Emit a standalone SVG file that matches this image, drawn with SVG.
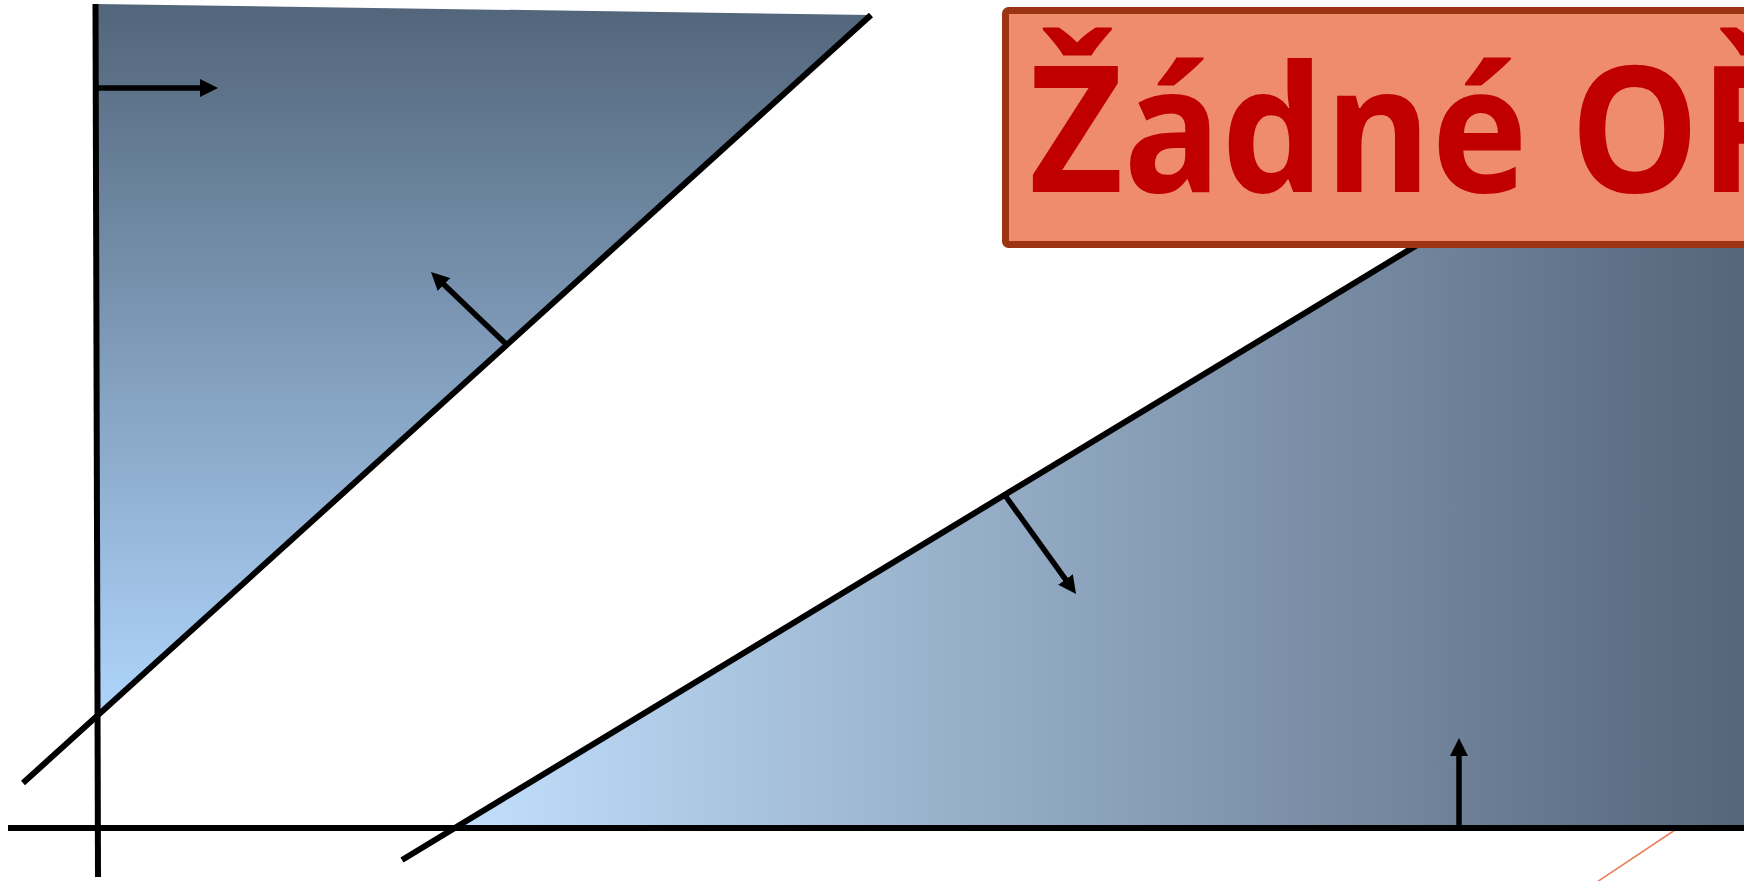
<svg xmlns="http://www.w3.org/2000/svg" width="1744" height="881" viewBox="0 0 1744 881">
  <style>
    .ln { stroke: #000; stroke-width: 6; fill: none; }
    .ar { stroke: #000; stroke-width: 5.5; fill: none; marker-end: url(#head); }
    .lbl { font-family: "Open Sans", "Noto Sans", "DejaVu Sans", sans-serif; font-weight: bold; font-size: 176px; fill: #c00000; }
  </style>
  <defs>
    <linearGradient id="gUp" gradientUnits="userSpaceOnUse" x1="0" y1="4" x2="0" y2="716">
      <stop offset="0" stop-color="#52657a"/>
      <stop offset="1" stop-color="#afd5fc"/>
    </linearGradient>
    <linearGradient id="gLow" gradientUnits="userSpaceOnUse" x1="450" y1="0" x2="1744" y2="0">
      <stop offset="0" stop-color="#c2e0fd"/>
      <stop offset="1" stop-color="#55657a"/>
    </linearGradient>
    <marker id="head" markerUnits="userSpaceOnUse" viewBox="0 0 18 18" refX="8" refY="9" markerWidth="18" markerHeight="18" orient="auto">
      <path d="M0,0 L18,9 L0,18 z" fill="#000"/>
    </marker>
  </defs>

  <line id="orange-line" x1="1690" y1="820" x2="1588" y2="888" stroke="#e8825c" stroke-width="1.6"/>

  <g id="region-upper">
    <polygon points="95,4 871,15 97,716" fill="url(#gUp)"/>
  </g>
  <g id="region-lower">
    <polygon points="451,828 1744,47 1744,828" fill="url(#gLow)"/>
  </g>

  <g id="connectors">
    <line class="ln" x1="95.5" y1="4" x2="98" y2="877"/>
    <line class="ln" x1="8" y1="828" x2="1750" y2="828"/>
    <line class="ln" x1="871" y1="15" x2="23" y2="783"/>
    <line class="ln" x1="402" y1="860" x2="1744" y2="47"/>
    <line class="ar" x1="96" y1="88" x2="208" y2="88"/>
    <line class="ar" x1="506" y1="344" x2="438.2" y2="278.9"/>
    <line class="ar" x1="1004" y1="494" x2="1070.2" y2="585.9"/>
    <line class="ar" x1="1459" y1="826" x2="1459" y2="748"/>
  </g>

  <g id="label-box">
    <rect x="1005.5" y="10.5" width="800" height="234" rx="3" fill="#ef8c6c" stroke="#9c3412" stroke-width="7"/>
    <text class="lbl" transform="translate(1029,192) scale(0.925,1)" x="0" y="0">Žádné OŘ</text>
  </g>
</svg>
